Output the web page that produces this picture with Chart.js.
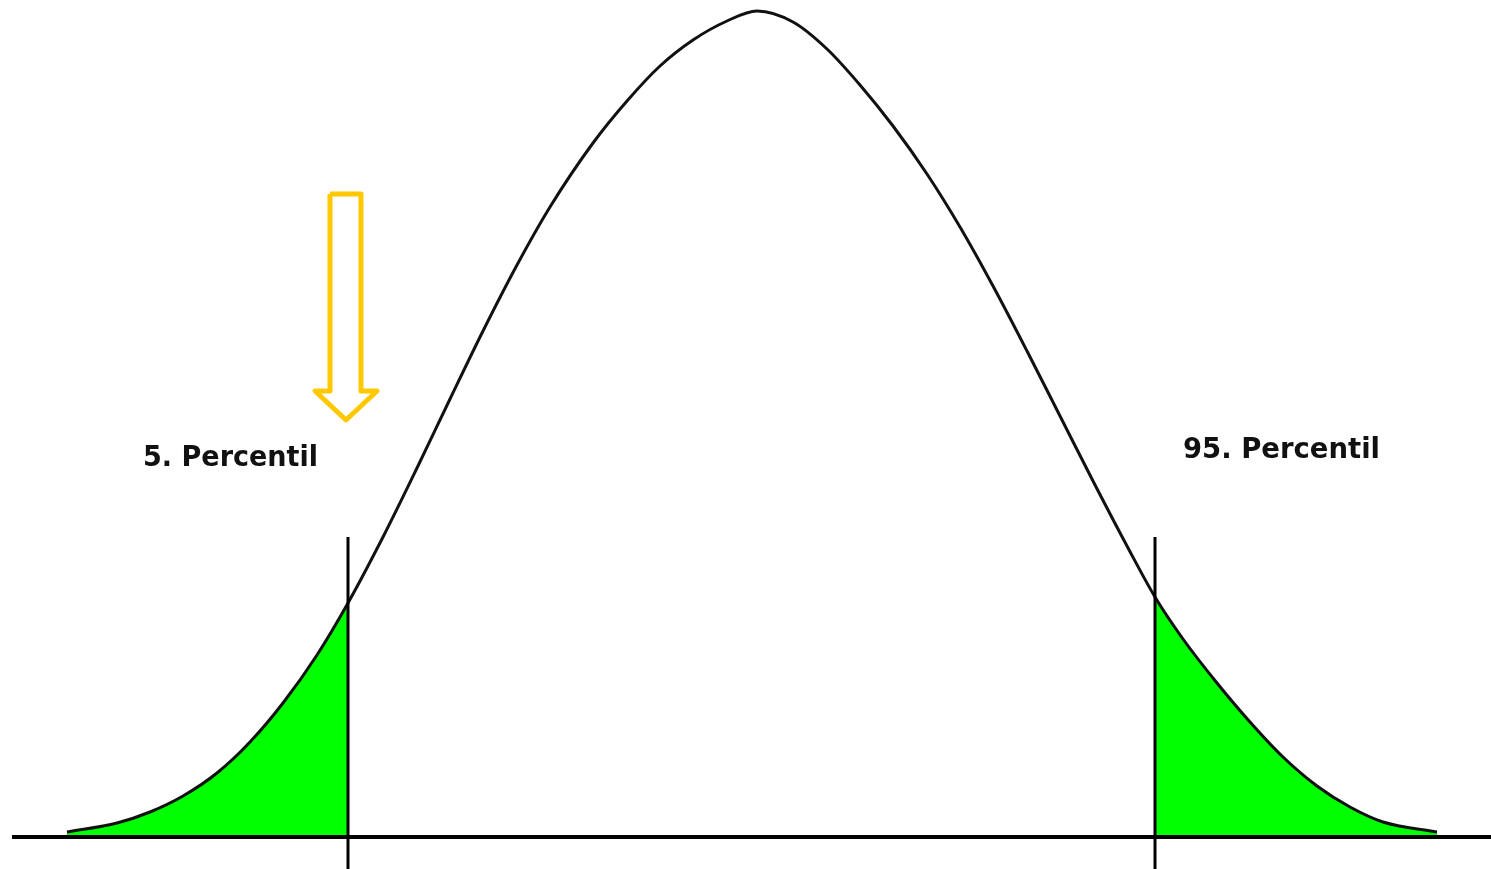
<!DOCTYPE html>
<html>
<head>
<meta charset="utf-8">
<script src="https://cdn.jsdelivr.net/npm/chart.js@4.4.1/dist/chart.umd.min.js"></script>
<style>
  html, body { margin: 0; padding: 0; background: #fff; }
  #wrap { width: 1491px; height: 869px; }
</style>
</head>
<body>
<div id="wrap"><canvas id="myChart" width="1491" height="869"></canvas></div>
<script>
// curve (x position, height above the baseline)
const curveX = [67, 117, 150, 183, 217, 250, 283, 317, 348, 383, 417, 450, 483, 517, 550, 593, 627, 660, 693, 727, 757,
                793, 827, 860, 893, 927, 960, 993, 1027, 1060, 1093, 1127, 1155, 1183, 1217, 1250, 1283, 1317, 1350, 1383, 1437];
const curveY = [5, 14, 25, 41, 64, 95, 134, 182, 234, 300, 369, 438, 506, 572, 630, 694, 736, 771, 797, 816, 826,
                815, 788, 752, 711, 663, 610, 551, 486, 421, 356, 291, 240, 198, 154, 115, 80, 51, 30, 15, 5];

// percentile cut-offs
const p5 = 348;
const p95 = 1155;
const cutTop = 300;
const labels = ['5. Percentil', '95. Percentil'];

// baseline extent
const baseX = [12, 1491];

// yellow arrow outline
const arrowX = [330, 361, 361, 377, 346, 315, 330, 330];
const arrowY = [643, 643, 446, 446, 417, 446, 446, 643];

const pts = (xs, ys) => xs.map((x, i) => ({ x: x, y: ys[i] }));
const curve = pts(curveX, curveY);
const leftTail = curve.filter(p => p.x <= p5);
const rightTail = curve.filter(p => p.x >= p95);

const textPlugin = {
    id: 'percentLabels',
    afterDatasetsDraw(chart) {
        const c = chart.ctx;
        const xs = chart.scales.x, ys = chart.scales.y;
        const spots = [
            { text: labels[0], x: 143, y: 371, w: 175 },
            { text: labels[1], x: 1183, y: 379, w: 197 },
        ];
        c.save();
        c.fillStyle = '#111';
        c.font = 'bold 28px "DejaVu Sans"';
        c.textBaseline = 'alphabetic';
        spots.forEach(s => {
            const px = xs.getPixelForValue(s.x);
            const py = ys.getPixelForValue(s.y);
            const m = c.measureText(s.text).width;
            c.save();
            c.translate(px, py);
            c.scale(s.w / m, 1);
            c.fillText(s.text, 0, 0);
            c.restore();
        });
        c.restore();
    }
};

new Chart(document.getElementById('myChart').getContext('2d'), {
    type: 'line',
    data: {
        datasets: [
            {
                data: curve,
                borderColor: '#111',
                borderWidth: 3,
                cubicInterpolationMode: 'monotone',
                pointRadius: 0,
                fill: false,
                order: 2,
            },
            {
                data: leftTail,
                borderWidth: 0,
                backgroundColor: '#00ff00',
                cubicInterpolationMode: 'monotone',
                pointRadius: 0,
                fill: 'origin',
                order: 5,
            },
            {
                data: rightTail,
                borderWidth: 0,
                backgroundColor: '#00ff00',
                cubicInterpolationMode: 'monotone',
                pointRadius: 0,
                fill: 'origin',
                order: 5,
            },
            {
                data: [{ x: baseX[0], y: 0 }, { x: baseX[1], y: 0 }],
                borderColor: '#000',
                borderWidth: 4,
                pointRadius: 0,
                order: 1,
            },
            {
                data: [{ x: p5, y: -40 }, { x: p5, y: cutTop }],
                borderColor: '#000',
                borderWidth: 3,
                pointRadius: 0,
                order: 1,
            },
            {
                data: [{ x: p95, y: -40 }, { x: p95, y: cutTop }],
                borderColor: '#000',
                borderWidth: 3,
                pointRadius: 0,
                order: 1,
            },
            {
                data: pts(arrowX, arrowY),
                borderColor: '#ffc800',
                borderWidth: 5,
                borderJoinStyle: 'round',
                tension: 0,
                pointRadius: 0,
                order: 1,
            }
        ]
    },
    options: {
        responsive: false,
        animation: false,
        layout: { padding: 0 },
        plugins: {
            legend: { display: false },
            tooltip: { enabled: false },
        },
        scales: {
            x: { type: 'linear', min: 0, max: 1491, display: false },
            y: { type: 'linear', min: -32, max: 837, display: false },
        },
    },
    plugins: [textPlugin]
});
</script>
</body>
</html>
